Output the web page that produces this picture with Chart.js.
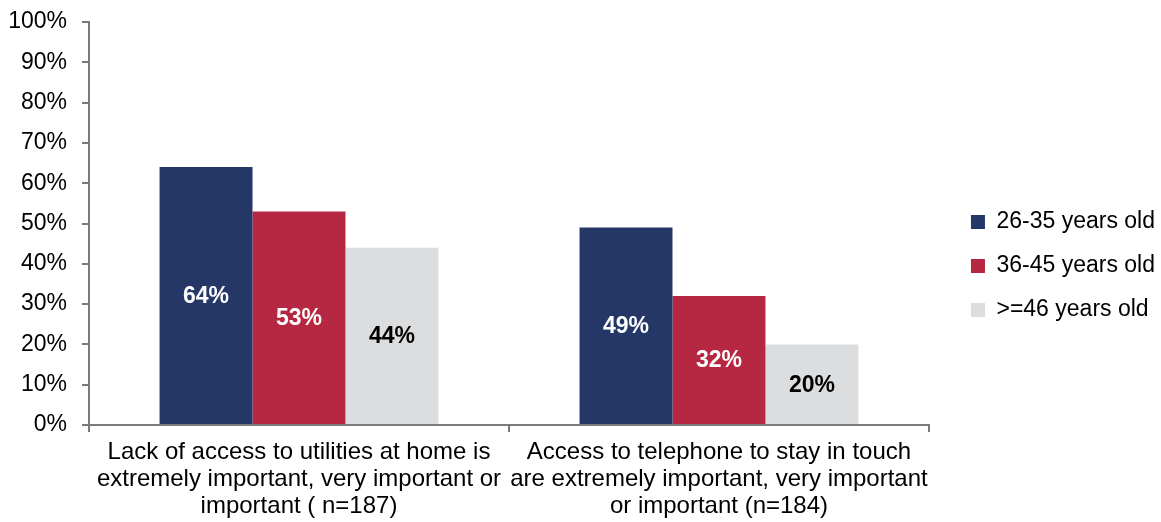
<!DOCTYPE html>
<html>
<head>
<meta charset="utf-8">
<script src="https://cdn.jsdelivr.net/npm/chart.js@4/dist/chart.umd.min.js"></script>
<style>
  html, body { margin: 0; padding: 0; background: #ffffff; }
  #wrap { width: 1161px; height: 522px; }
</style>
</head>
<body>
<div id="wrap"><canvas id="importanceChart" width="1161" height="522"></canvas></div>
<script>
// categories (multi-line labels) and one value array per age group
const categories = [
    ['Lack of access to utilities at home is', 'extremely important, very important or', 'important ( n=187)'],
    ['Access to telephone to stay in touch', 'are extremely important, very important', 'or important (n=184)']
];
const ageGroups = ['26-35 years old', '36-45 years old', '>=46 years old'];
const age26to35 = [64, 49];
const age36to45 = [53, 32];
const age46plus = [44, 20];
const groupColors = ['#253767', '#b62841', '#dcdddf'];
const labelColors = ['#ffffff', '#ffffff', '#000000'];

const axisGray = '#7a7a7a';
const fontFamily = '"Liberation Sans", Arial, sans-serif';
const legendExtraWidth = 17;
const legendShiftX = 21;
const legendShiftY = 5;

// writes the value in the middle of every bar
const barValues = {
    id: 'barValues',
    afterDatasetsDraw(chart) {
        const ctx = chart.ctx;
        ctx.save();
        ctx.font = 'bold 23px ' + fontFamily;
        ctx.textAlign = 'center';
        ctx.textBaseline = 'middle';
        chart.data.datasets.forEach((ds, i) => {
            const meta = chart.getDatasetMeta(i);
            meta.data.forEach((bar, j) => {
                const yMid = (bar.y + bar.base) / 2;
                ctx.fillStyle = labelColors[i];
                ctx.fillText(ds.data[j] + '%', bar.x, yMid + 1);
            });
        });
        ctx.restore();
    }
};

// leaves some empty room between the plot and the legend on the right
const legendGap = {
    id: 'legendGap',
    beforeUpdate(chart) {
        const legend = chart.legend;
        if (!legend || legend._gapWrapped) return;
        const fit = legend.fit;
        legend.fit = function () {
            fit.apply(this, arguments);
            this.width += legendExtraWidth;
        };
        legend._gapWrapped = true;
    },
    afterLayout(chart) {
        const legend = chart.legend;
        if (!legend) return;
        legend.left += legendShiftX;
        legend.top += legendShiftY;
        legend.bottom += legendShiftY;
    }
};

const data = {
    labels: categories,
    datasets: [
        { label: ageGroups[0], data: age26to35, backgroundColor: groupColors[0] },
        { label: ageGroups[1], data: age36to45, backgroundColor: groupColors[1] },
        { label: ageGroups[2], data: age46plus, backgroundColor: groupColors[2] }
    ]
};

const config = {
    type: 'bar',
    data: data,
    options: {
        responsive: false,
        animation: false,
        datasets: {
            bar: { categoryPercentage: 0.664, barPercentage: 1.0 }
        },
        layout: { padding: 0 },
        plugins: {
            tooltip: { enabled: false },
            legend: {
                position: 'right',
                labels: {
                    color: '#000000',
                    font: { size: 23, family: fontFamily },
                    boxWidth: 14,
                    boxHeight: 14,
                    padding: 21
                }
            }
        },
        scales: {
            x: {
                border: { color: axisGray, width: 2 },
                grid: { drawOnChartArea: false, drawTicks: true, tickLength: 7, color: axisGray, lineWidth: 2 },
                ticks: {
                    color: '#000000',
                    maxRotation: 0,
                    autoSkip: false,
                    padding: 7,
                    font: { size: 24, family: fontFamily, lineHeight: 1.125 }
                },
                afterFit: scale => { scale.height = 97; }
            },
            y: {
                min: 0,
                max: 100,
                border: { color: axisGray, width: 2 },
                grid: { drawOnChartArea: false, drawTicks: true, tickLength: 7, color: axisGray, lineWidth: 2 },
                ticks: {
                    stepSize: 10,
                    color: '#000000',
                    padding: 15,
                    font: { size: 23, family: fontFamily },
                    callback: v => v + '%'
                },
                afterFit: scale => {
                    scale.width = 89;
                    scale.paddingTop = 22;
                }
            }
        }
    },
    plugins: [barValues, legendGap]
};

new Chart('importanceChart', config);
</script>
</body>
</html>
